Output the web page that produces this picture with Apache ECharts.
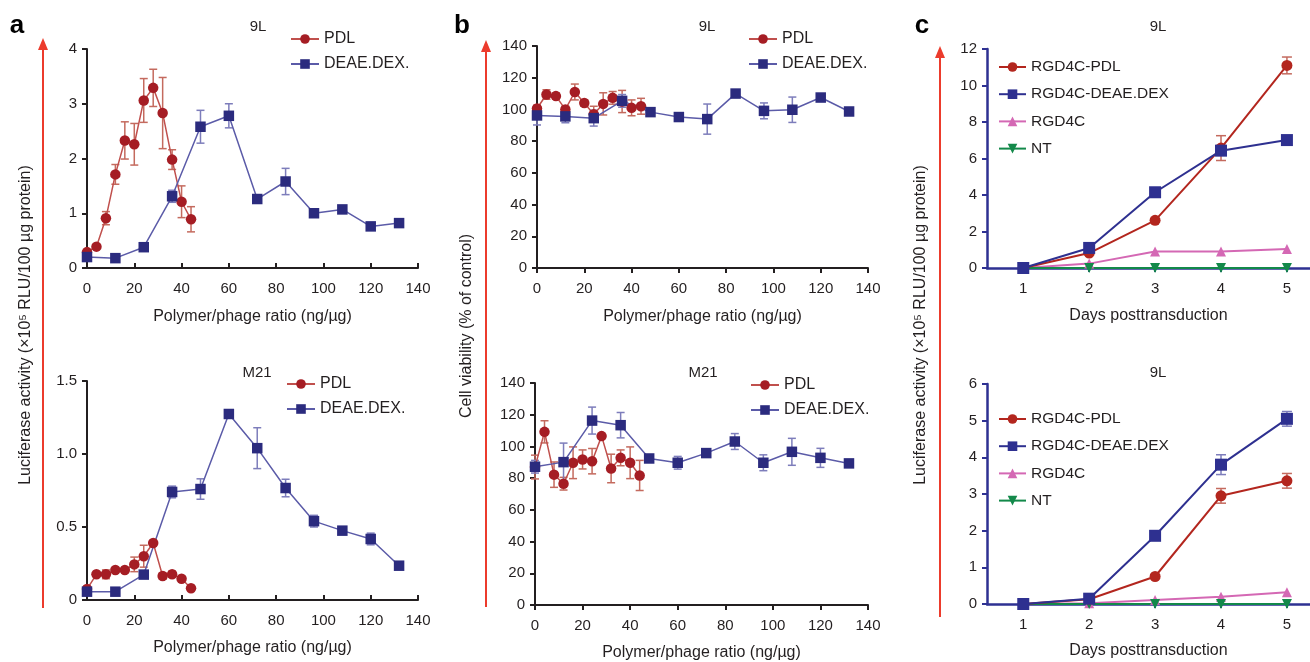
<!DOCTYPE html>
<html><head><meta charset="utf-8">
<script src="https://cdn.jsdelivr.net/npm/echarts@6/dist/echarts.min.js"></script>
<style>html,body{margin:0;padding:0;background:#fff}#c{width:1310px;height:662px}</style>
</head><body><div id="c"></div>
<script>
// ---- data ----
const ratioPDL = [0,4,8,12,16,20,24,28,32,36,40,44];
const ratioDEAE = [0,12,24,36,48,60,72,84,96,108,120,132];
const days = [1,2,3,4,5];

const aTopPDL = [0.29,0.39,0.91,1.71,2.33,2.26,3.06,3.29,2.83,1.98,1.21,0.89];
const aTopPDLErr = [0.03,0.03,0.12,0.18,0.34,0.38,0.4,0.34,0.65,0.18,0.29,0.23];
const aTopDEAE = [0.20,0.18,0.38,1.31,2.58,2.78,1.26,1.58,1.00,1.07,0.76,0.82];
const aTopDEAEErr = [0.03,0.03,0.03,0.11,0.3,0.22,0.04,0.24,0.03,0.03,0.03,0.03];

const aBotPDL = [0.075,0.176,0.176,0.205,0.205,0.244,0.30,0.39,0.164,0.176,0.146,0.08];
const aBotPDLErr = [0.01,0.01,0.03,0.01,0.01,0.05,0.075,0.01,0.02,0.02,0.01,0.01];
const aBotDEAE = [0.057,0.057,0.174,0.74,0.76,1.274,1.04,0.767,0.54,0.475,0.418,0.235];
const aBotDEAEErr = [0.01,0.01,0.01,0.04,0.07,0.01,0.14,0.06,0.04,0.01,0.04,0.02];

const bTopPDL = [100.6,109.4,108.4,100,111,104,97,103.5,107.3,105,101,102];
const bTopPDLErr = [2,3,2,2,5,2,5,7,4,7,5,5];
const bTopDEAE = [96.2,95.6,94.5,105.4,98.3,95.2,93.9,110,99.1,99.8,107.5,98.7];
const bTopDEAEErr = [6,4,5,4,2,2,9.5,2,5,8,1,1];

const bBotPDL = [87,109.2,82.2,76.5,89.7,91.8,90.7,106.5,86.1,92.8,89.7,81.7];
const bBotPDLErr = [7.5,7,8,4,10,6,8,1,9,5,10,9.5];
const bBotDEAE = [87.2,90.1,116.3,113.4,92.4,89.7,95.8,103.1,89.7,96.6,92.8,89.3];
const bBotDEAEErr = [4,12,8.5,8,1,4,1,5,5,8.5,6,1];

const cTopPDL = [0,0.82,2.61,6.57,11.1];
const cTopPDLErr = [0,0.1,0.1,0.68,0.46];
const cTopDEAE = [0,1.10,4.15,6.43,7.01];
const cTopDEAEErr = [0,0.1,0.15,0.15,0.1];
const cTopRGD = [0,0.24,0.9,0.9,1.04];
const cTopNT = [0,0,0,0,0];

const cBotPDL = [0,0.13,0.75,2.95,3.36];
const cBotPDLErr = [0,0,0.05,0.2,0.2];
const cBotDEAE = [0,0.145,1.86,3.8,5.05];
const cBotDEAEErr = [0,0.02,0.12,0.27,0.2];
const cBotRGD = [0,0.02,0.11,0.2,0.32];
const cBotNT = [0,0,0,0,0];

const xTicksRatio = [0,20,40,60,80,100,120,140];
const xTicksDays = [1,2,3,4,5];

// ---- styling ----
const font = 'Liberation Sans, Arial, sans-serif';
const ink = '#231f20';
const navyAxis = '#2e3192';
const C = {
  pdlLine:'#c0504d', pdlMark:'#a51d24', pdlErr:'#c46a5e',
  deLine:'#5b5ba8', deMark:'#2b2b7e', deErr:'#7d7dbb',
  cPdl:'#b3261e', cDe:'#2e3090', cRgd:'#d468b4', cNt:'#13894a'
};

const zip = (xs, ys) => xs.map((x,i)=>[x, ys[i]]);
const zip3 = (xs, ys, es) => xs.map((x,i)=>[x, ys[i], es[i]]);

function errRender(capW){
  return function(params, api){
    const x = api.value(0), y = api.value(1), e = api.value(2);
    if (!e) return;
    const t = api.coord([x, y+e]), b = api.coord([x, y-e]);
    const st = {stroke: api.visual('color'), lineWidth: 1.5};
    return {type:'group', children:[
      {type:'line', shape:{x1:t[0],y1:t[1],x2:b[0],y2:b[1]}, style:st},
      {type:'line', shape:{x1:t[0]-capW,y1:t[1],x2:t[0]+capW,y2:t[1]}, style:st},
      {type:'line', shape:{x1:b[0]-capW,y1:b[1],x2:b[0]+capW,y2:b[1]}, style:st}
    ]};
  };
}
function errSeries(g, xs, ys, es, color, cap){
  return {type:'custom', xAxisIndex:g, yAxisIndex:g, renderItem: errRender(cap||4),
    itemStyle:{color}, data: zip3(xs, ys, es), encode:{x:0,y:1}, z:1, silent:true};
}
function lineSeries(g, name, xs, ys, lineColor, markColor, symbol, size, width, rot){
  return {type:'line', name, xAxisIndex:g, yAxisIndex:g, data: zip(xs, ys),
    symbol, symbolSize:size, symbolRotate: rot||0, showAllSymbol:true, clip:false,
    lineStyle:{color:lineColor, width:width||1.5},
    itemStyle:{color:markColor, borderWidth:0}, z:3, animation:false};
}

function xRatio(g, nameGap, tickInside){
  return {type:'value', gridIndex:g, min:0, max:140, interval:20,
    name:'Polymer/phage ratio (ng/µg)', nameLocation:'middle', nameGap,
    nameTextStyle:{fontSize:16, color:ink, fontFamily:font},
    axisLine:{lineStyle:{color:ink, width:2}},
    axisTick:{inside:!!tickInside, length:5, lineStyle:{color:ink, width:2}},
    axisLabel:{fontSize:15, margin:13, color:ink, fontFamily:font,
      customValues: xTicksRatio},
    splitLine:{show:false}};
}
function yVal(g, max, interval, fmt){
  return {type:'value', gridIndex:g, min:0, max, interval,
    axisLine:{show:true, lineStyle:{color:ink, width:2}},
    axisTick:{show:true, length:5, lineStyle:{color:ink, width:2}},
    axisLabel:{fontSize:15, margin:10, color:ink, fontFamily:font, formatter: fmt},
    splitLine:{show:false}};
}
function xDays(g, nameGap){
  return {type:'value', gridIndex:g, min:0.45, max:5.35,
    name:'Days posttransduction', nameLocation:'middle', nameGap,
    nameTextStyle:{fontSize:16, color:ink, fontFamily:font},
    axisLine:{lineStyle:{color:navyAxis, width:2.5}},
    axisTick:{show:true, length:4, customValues: xTicksDays, lineStyle:{color:navyAxis, width:2}},
    axisLabel:{fontSize:15, margin:13, color:ink, fontFamily:font, customValues: xTicksDays},
    splitLine:{show:false}};
}
function yDays(g, max, interval){
  return {type:'value', gridIndex:g, min:0, max, interval,
    axisLine:{show:true, lineStyle:{color:navyAxis, width:2.5}},
    axisTick:{show:true, length:5, lineStyle:{color:navyAxis, width:2}},
    axisLabel:{fontSize:15, margin:10, color:ink, fontFamily:font},
    splitLine:{show:false}};
}
const fmtHalf = v => v === 0 ? '0' : v.toFixed(1);

const grids = [
  {left:87, top:49, width:331, height:219},
  {left:87, top:381, width:331, height:219},
  {left:537, top:46, width:331, height:222},
  {left:535, top:383, width:333, height:223},
  {left:987, top:49, right:0, height:219},
  {left:987, top:384, right:0, height:220}
];

function legendAB(left, top){
  return {left, top, padding:0, orient:'vertical', itemWidth:28, itemHeight:12, itemGap:9,
    data:['PDL','DEAE.DEX.'], textStyle:{fontSize:16, lineHeight:16, color:ink, fontFamily:font},
    selectedMode:false};
}
function legendC(left, top){
  return {left, top, padding:0, orient:'vertical', itemWidth:27, itemHeight:12, itemGap:11.2,
    data:['RGD4C-PDL','RGD4C-DEAE.DEX','RGD4C','NT'],
    textStyle:{fontSize:15.5, lineHeight:16, color:ink, fontFamily:font}, selectedMode:false};
}

function titleAt(text, x, y){
  return {text, left:x, top:y, textAlign:'center',
    textStyle:{fontSize:15, fontWeight:'normal', color:ink, fontFamily:font}};
}

const series = [
  // a top
  errSeries(0, ratioPDL, aTopPDL, aTopPDLErr, C.pdlErr),
  errSeries(0, ratioDEAE, aTopDEAE, aTopDEAEErr, C.deErr),
  lineSeries(0, 'PDL', ratioPDL, aTopPDL, C.pdlLine, C.pdlMark, 'circle', 10.5),
  lineSeries(0, 'DEAE.DEX.', ratioDEAE, aTopDEAE, C.deLine, C.deMark, 'rect', 10.5),
  // a bottom
  errSeries(1, ratioPDL, aBotPDL, aBotPDLErr, C.pdlErr),
  errSeries(1, ratioDEAE, aBotDEAE, aBotDEAEErr, C.deErr),
  lineSeries(1, 'PDL', ratioPDL, aBotPDL, C.pdlLine, C.pdlMark, 'circle', 10.5),
  lineSeries(1, 'DEAE.DEX.', ratioDEAE, aBotDEAE, C.deLine, C.deMark, 'rect', 10.5),
  // b top
  errSeries(2, ratioPDL, bTopPDL, bTopPDLErr, C.pdlErr),
  errSeries(2, ratioDEAE, bTopDEAE, bTopDEAEErr, C.deErr),
  lineSeries(2, 'PDL', ratioPDL, bTopPDL, C.pdlLine, C.pdlMark, 'circle', 10.5),
  lineSeries(2, 'DEAE.DEX.', ratioDEAE, bTopDEAE, C.deLine, C.deMark, 'rect', 10.5),
  // b bottom
  errSeries(3, ratioPDL, bBotPDL, bBotPDLErr, C.pdlErr),
  errSeries(3, ratioDEAE, bBotDEAE, bBotDEAEErr, C.deErr),
  lineSeries(3, 'PDL', ratioPDL, bBotPDL, C.pdlLine, C.pdlMark, 'circle', 10.5),
  lineSeries(3, 'DEAE.DEX.', ratioDEAE, bBotDEAE, C.deLine, C.deMark, 'rect', 10.5),
  // c top
  errSeries(4, days, cTopPDL, cTopPDLErr, C.pdlErr, 5),
  errSeries(4, days, cTopDEAE, cTopDEAEErr, C.deErr, 5),
  lineSeries(4, 'RGD4C', days, cTopRGD, C.cRgd, C.cRgd, 'triangle', 10, 2),
  lineSeries(4, 'NT', days, cTopNT, C.cNt, C.cNt, 'triangle', 10, 2, 180),
  lineSeries(4, 'RGD4C-PDL', days, cTopPDL, C.cPdl, C.cPdl, 'circle', 11, 2),
  lineSeries(4, 'RGD4C-DEAE.DEX', days, cTopDEAE, C.cDe, C.cDe, 'rect', 12, 2),
  // c bottom
  errSeries(5, days, cBotPDL, cBotPDLErr, C.pdlErr, 5),
  errSeries(5, days, cBotDEAE, cBotDEAEErr, C.deErr, 5),
  lineSeries(5, 'RGD4C', days, cBotRGD, C.cRgd, C.cRgd, 'triangle', 10, 2),
  lineSeries(5, 'NT', days, cBotNT, C.cNt, C.cNt, 'triangle', 10, 2, 180),
  lineSeries(5, 'RGD4C-PDL', days, cBotPDL, C.cPdl, C.cPdl, 'circle', 11, 2),
  lineSeries(5, 'RGD4C-DEAE.DEX', days, cBotDEAE, C.cDe, C.cDe, 'rect', 12, 2)
];

const red = '#ec3b2c';
function arrow(x, yTop, yBot){
  return [
    {type:'line', shape:{x1:x, y1:yTop+8, x2:x, y2:yBot}, style:{stroke:red, lineWidth:2}},
    {type:'polygon', shape:{points:[[x, yTop],[x-5, yTop+12],[x+5, yTop+12]]}, style:{fill:red}}
  ];
}
function vText(text, x, y){
  return {type:'text', x, y, rotation:Math.PI/2,
    style:{text, fontSize:16, fill:ink, fontFamily:font, align:'center', verticalAlign:'middle'}};
}
function letter(text, x, y){
  return {type:'text', x, y, style:{text, fontSize:26, fontWeight:'bold', fill:'#000', fontFamily:font, align:'center', verticalAlign:'middle'}};
}

const option = {
  animation:false,
  backgroundColor:'#fff',
  textStyle:{fontFamily:font},
  title:[
    titleAt('9L', 253, 14), titleAt('M21', 252, 360),
    titleAt('9L', 702, 14), titleAt('M21', 698, 360),
    titleAt('9L', 1153, 14), titleAt('9L', 1153, 360)
  ],
  legend:[
    legendAB(290, 31), legendAB(286, 376),
    legendAB(748, 31), legendAB(750, 377),
    legendC(998, 59), legendC(998, 411)
  ],
  grid: grids,
  xAxis:[xRatio(0,41,true), xRatio(1,40,true), xRatio(2,41,false), xRatio(3,40,false), xDays(4,40), xDays(5,39)],
  yAxis:[yVal(0,4,1), yVal(1,1.5,0.5,fmtHalf), yVal(2,140,20), yVal(3,140,20), yDays(4,12,2), yDays(5,6,1)],
  series,
  graphic:[
    ...arrow(43, 38, 608), ...arrow(486, 40, 607), ...arrow(940, 46, 617),
    vText('Luciferase activity (×10⁵ RLU/100 µg protein)', 26, 325),
    vText('Cell viability (% of control)', 467, 326),
    vText('Luciferase activity (×10⁵ RLU/100 µg protein)', 921, 325),
    letter('a', 17, 26), letter('b', 462, 26), letter('c', 922, 26)
  ]
};
const chart = echarts.init(document.getElementById('c'));
chart.setOption(option);
</script></body></html>
